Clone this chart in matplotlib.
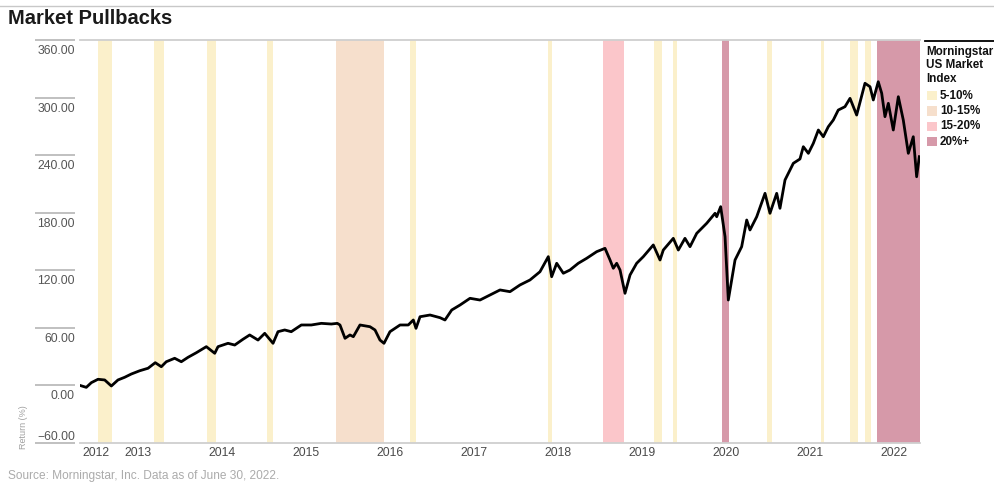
import matplotlib
matplotlib.use("Agg")
import matplotlib.pyplot as plt
from matplotlib.transforms import offset_copy, ScaledTranslation

# Cumulative return of the Morningstar US Market Index (fractional year, %)
years = [
    2012.500, 2012.575, 2012.635, 2012.714, 2012.794, 2012.873, 2012.952, 2013.032,
    2013.111, 2013.211, 2013.310, 2013.396, 2013.468, 2013.527, 2013.627, 2013.706,
    2013.786, 2013.885, 2014.004, 2014.104, 2014.143, 2014.262, 2014.342, 2014.440,
    2014.520, 2014.619, 2014.699, 2014.798, 2014.857, 2014.937, 2015.015, 2015.135,
    2015.254, 2015.373, 2015.492, 2015.563, 2015.595, 2015.655, 2015.714, 2015.754,
    2015.833, 2015.952, 2016.012, 2016.071, 2016.119, 2016.190, 2016.310, 2016.408,
    2016.468, 2016.500, 2016.548, 2016.667, 2016.786, 2016.845, 2016.925, 2017.024,
    2017.143, 2017.262, 2017.381, 2017.500, 2017.619, 2017.738, 2017.857, 2017.976,
    2018.075, 2018.115, 2018.175, 2018.254, 2018.333, 2018.432, 2018.532, 2018.651,
    2018.750, 2018.810, 2018.849, 2018.889, 2018.929, 2018.988, 2019.048, 2019.127,
    2019.206, 2019.325, 2019.405, 2019.444, 2019.563, 2019.623, 2019.702, 2019.762,
    2019.842, 2019.961, 2020.060, 2020.080, 2020.127, 2020.179, 2020.218, 2020.258,
    2020.298, 2020.377, 2020.437, 2020.476, 2020.556, 2020.655, 2020.714, 2020.794,
    2020.833, 2020.893, 2020.992, 2021.071, 2021.111, 2021.171, 2021.230, 2021.290,
    2021.349, 2021.408, 2021.468, 2021.527, 2021.607, 2021.667, 2021.746, 2021.845,
    2021.905, 2021.944, 2022.003, 2022.044, 2022.083, 2022.123, 2022.182, 2022.242,
    2022.301, 2022.361, 2022.420, 2022.460, 2022.492,
]
returns = [
    0.0, -2.0, 2.9, 6.4, 5.7, -0.6, 5.7, 8.5,
    11.9, 15.3, 17.9, 23.7, 19.5, 24.7, 28.3, 24.7,
    29.3, 34.1, 40.4, 33.5, 40.4, 43.9, 42.1, 48.1,
    52.6, 47.3, 54.3, 43.9, 56.0, 57.8, 56.0, 63.0,
    63.0, 64.7, 64.0, 64.7, 63.0, 49.1, 52.6, 50.8,
    63.0, 61.2, 57.8, 47.3, 43.9, 56.0, 63.0, 63.0,
    68.2, 59.5, 71.6, 73.4, 70.6, 68.2, 78.6, 83.8,
    90.8, 89.0, 94.2, 99.5, 97.7, 104.7, 109.9, 118.5,
    134.2, 113.3, 127.3, 116.9, 120.3, 127.3, 132.5, 139.4,
    142.9, 130.7, 122.1, 127.3, 120.3, 96.0, 115.1, 127.3,
    134.2, 146.4, 130.7, 141.1, 153.3, 141.1, 153.3, 144.6,
    158.5, 169.0, 179.4, 175.8, 186.3, 155.0, 89.0, 109.9,
    130.7, 144.6, 172.4, 162.0, 175.8, 200.2, 179.4, 200.2,
    184.6, 214.1, 231.5, 236.0, 248.8, 241.9, 252.3, 266.2,
    259.2, 269.6, 276.6, 287.0, 290.5, 299.2, 281.8, 314.9,
    311.3, 297.5, 316.5, 304.5, 280.1, 294.0, 266.2, 300.9,
    276.6, 241.9, 259.2, 217.5, 238.4,
]

# Pullback periods (fractional year) and their depth category
band_start = [2012.714, 2013.381, 2014.012, 2014.726, 2015.548, 2016.429,
              2018.071, 2018.726, 2019.333, 2019.560, 2020.143, 2020.679,
              2021.321, 2021.667, 2021.845, 2021.988]
band_end = [2012.881, 2013.500, 2014.119, 2014.798, 2016.119, 2016.500,
            2018.119, 2018.976, 2019.429, 2019.607, 2020.226, 2020.738,
            2021.357, 2021.762, 2021.917, 2022.500]
band_level = ["5-10%", "5-10%", "5-10%", "5-10%", "10-15%", "5-10%",
              "5-10%", "15-20%", "5-10%", "5-10%", "20%+", "5-10%",
              "5-10%", "5-10%", "5-10%", "20%+"]

levels = ["5-10%", "10-15%", "15-20%", "20%+"]
level_colors = {"5-10%": "#fbf0cb", "10-15%": "#f6dfcc",
                "15-20%": "#fbc6ca", "20%+": "#d699a9"}

y_ticks = [-60, 0, 60, 120, 180, 240, 300, 360]
x_tick_pos = [2012.5, 2013, 2014, 2015, 2016, 2017, 2018, 2019, 2020, 2021, 2022]
x_tick_labels = ["2012", "2013", "2014", "2015", "2016", "2017", "2018",
                 "2019", "2020", "2021", "2022"]

W, H = 995, 483
fig = plt.figure(figsize=(W / 100, H / 100), dpi=100)
ax = fig.add_axes([80 / W, 1 - 443 / H, 840 / W, 403 / H])

sans = ["Liberation Sans", "DejaVu Sans"]

for s, e, lv in zip(band_start, band_end, band_level):
    ax.axvspan(s, e, color=level_colors[lv], lw=0, zorder=1)

ax.plot(years, returns, color="black", lw=2.0, zorder=3, solid_joinstyle="round")

ax.set_xlim(2012.5, 2022.5)
ax.set_ylim(-60, 360)

for side in ["left", "right"]:
    ax.spines[side].set_visible(False)
for side in ["top", "bottom"]:
    ax.spines[side].set_color("#cfcfcf")
    ax.spines[side].set_linewidth(1.3)
    ax.spines[side].set_zorder(4)

# x axis: years, left-aligned at each year start
ax.set_xticks(x_tick_pos)
ax.set_xticklabels(x_tick_labels, family=sans, fontsize=8.8, color="#4a4a4a",
                   ha="left")
ax.tick_params(axis="x", length=0, pad=3)
for lab in ax.get_xticklabels():
    lab.set_transform(lab.get_transform() + ScaledTranslation(2 / 100, 0, fig.dpi_scale_trans))

# y axis: short rule at each value with the label set just below it
ax.set_yticks([])
ytrans = ax.get_yaxis_transform()
ax.hlines(y_ticks, -45 / 840, -5 / 840, transform=ytrans, color="#b5b5b5",
          lw=1.2, clip_on=False)
for v in y_ticks:
    txt = f"{v:.2f}".replace("-", "\u2212")
    dy = 6 if v == y_ticks[0] else -11
    tr = offset_copy(ytrans, fig=fig, x=0, y=dy, units="dots")
    ax.text(-5 / 840, v, txt, transform=tr, ha="right", va="center",
            family=sans, fontsize=8.8, color="#555555", clip_on=False)

fig.text(24 / W, 1 - 427 / H, "Return (%)", rotation=90, ha="center",
         va="center", family=sans, fontsize=6.5, color="#a0a0a0")

# title, rule and source line
fig.add_artist(plt.Line2D([0, 1], [1 - 5.5 / H, 1 - 5.5 / H], color="#c8c8c8", lw=1.0))
fig.text(8 / W, 1 - 18 / H, "Market Pullbacks", ha="left", va="center",
         family=sans, fontsize=14.5, fontweight="bold", color="#1a1a1a")
fig.text(8 / W, 1 - 476 / H, "Source: Morningstar, Inc. Data as of June 30, 2022.",
         ha="left", va="center", family=sans, fontsize=8.6, color="#ababab")

# legend block on the right
fig.add_artist(plt.Line2D([925 / W, 1], [1 - 40.5 / H, 1 - 40.5 / H], color="black", lw=1.3))
for i, line in enumerate(["Morningstar", "US Market", "Index"]):
    fig.text(926.5 / W, 1 - (51.5 + 13.7 * i) / H, line, ha="left", va="center",
             family=sans, fontsize=8.4, fontweight="bold", color="#111111")
for i, lv in enumerate(levels):
    yc = 95.7 + 15.3 * i
    fig.add_artist(plt.Rectangle((927 / W, 1 - (yc + 4.5) / H), 10 / W, 9 / H,
                                 facecolor=level_colors[lv], edgecolor="none",
                                 transform=fig.transFigure))
    fig.text(940 / W, 1 - yc / H, lv, ha="left", va="center", family=sans,
             fontsize=8.4, fontweight="bold", color="#111111")

fig.savefig("out.png", dpi=100)
